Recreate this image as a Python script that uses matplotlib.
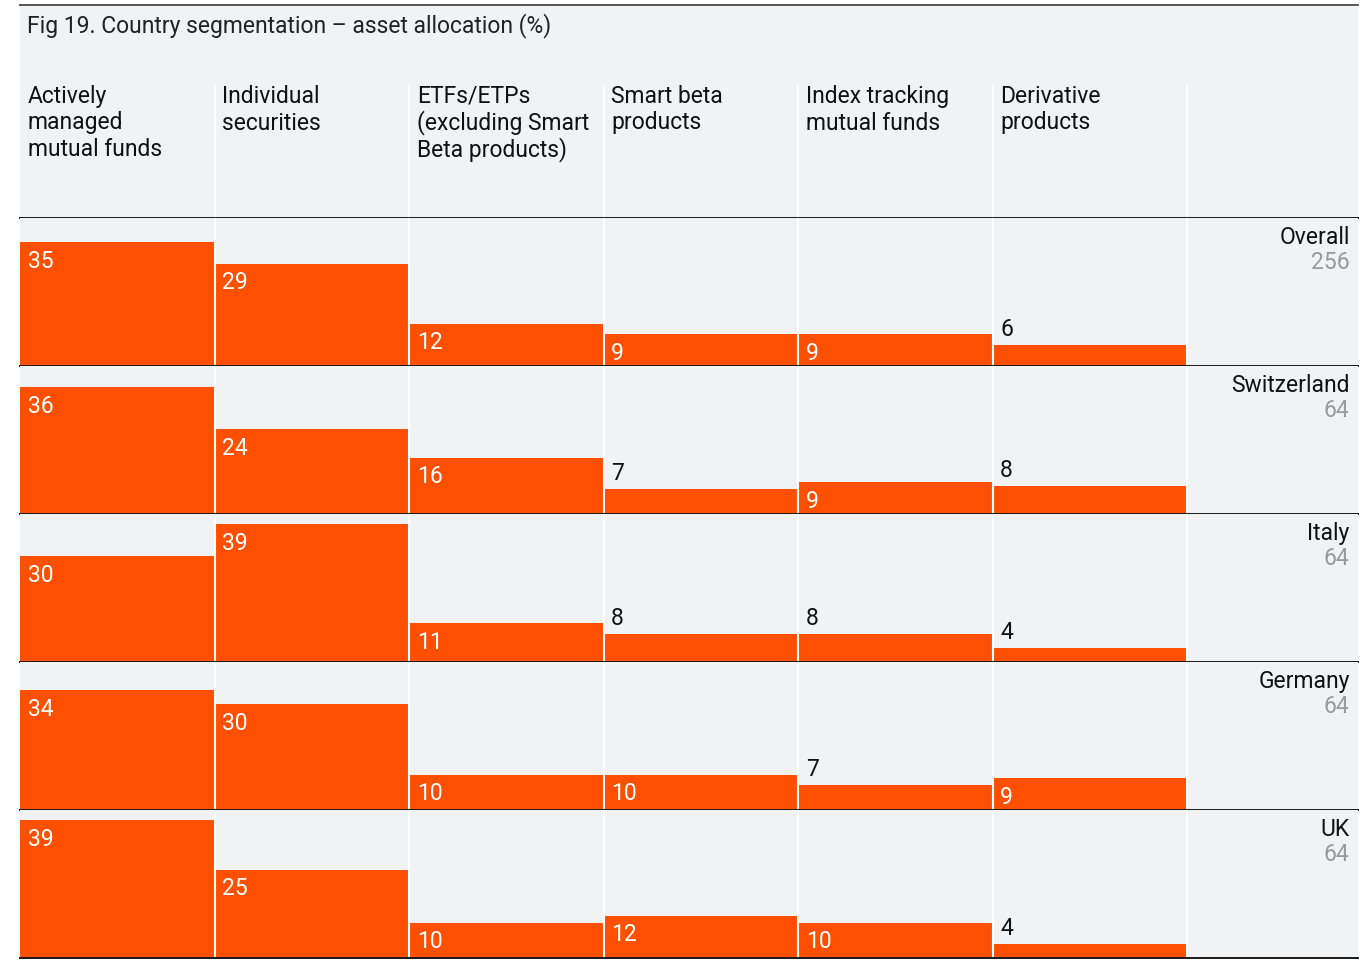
import matplotlib
matplotlib.use("Agg")
import matplotlib.pyplot as plt

plt.rcParams['font.family'] = ['Roboto', 'DejaVu Sans']

title = "Fig 19. Country segmentation \u2013 asset allocation (%)"
categories = ["Actively\nmanaged\nmutual funds", "Individual\nsecurities",
              "ETFs/ETPs\n(excluding Smart\nBeta products)", "Smart beta\nproducts",
              "Index tracking\nmutual funds", "Derivative\nproducts"]
countries = ["Overall", "Switzerland", "Italy", "Germany", "UK"]
counts = [256, 64, 64, 64, 64]
overall = [35, 29, 12, 9, 9, 6]
switzerland = [36, 24, 16, 7, 9, 8]
italy = [30, 39, 11, 8, 8, 4]
germany = [34, 30, 10, 10, 7, 9]
uk = [39, 25, 10, 12, 10, 4]
series = [overall, switzerland, italy, germany, uk]

W, H = 1362, 960
BG = '#f1f2f4'
ORANGE = '#ff4f00'
FS = 16.5

fig = plt.figure(figsize=(W / 100, H / 100), dpi=100)
fig.patch.set_facecolor('white')

left_px, right_px = 20, 1358
col_w = (1187 - 20) / 6
xmax = (right_px - left_px) / col_w
ncol = len(categories)

def ax_rect(top, bottom):
    return [left_px / W, (H - bottom) / H, (right_px - left_px) / W, (bottom - top) / H]

# header axes
hax = fig.add_axes(ax_rect(5, 218))
hax.set_facecolor(BG)
hax.set_xlim(0, xmax)
hax.set_ylim(213, 0)
for s in ['left', 'right']:
    hax.spines[s].set_visible(False)
hax.spines['top'].set_color('#555555')
hax.spines['top'].set_linewidth(1.4)
hax.spines['bottom'].set_color('#1a1a1a')
hax.spines['bottom'].set_linewidth(1.4)
hax.set_xticks([]); hax.set_yticks([])
hax.text(0.035, 21, title, fontsize=FS, color='#222222', va='center', ha='left')
for i, c in enumerate(categories):
    for j, line in enumerate(c.split('\n')):
        hax.text(i + 0.04, 98 + j * 26.5, line, fontsize=FS, color='#111111',
                 va='baseline', ha='left')
for i in range(1, ncol + 1):
    hax.plot([i, i], [80, 213], color='white', lw=1.5, solid_capstyle='butt')

YMAX = 148 / 3.53
row_h = 148
for r, (name, n, vals) in enumerate(zip(countries, counts, series)):
    top = 218 + r * row_h
    ax = fig.add_axes(ax_rect(top, top + row_h))
    ax.set_facecolor(BG)
    ax.set_xlim(0, xmax)
    ax.set_ylim(0, YMAX)
    for s in ['left', 'right', 'top']:
        ax.spines[s].set_visible(False)
    ax.spines['bottom'].set_color('#1a1a1a')
    ax.spines['bottom'].set_linewidth(1.4)
    ax.spines['bottom'].set_zorder(5)
    ax.set_xticks([]); ax.set_yticks([])
    xs = list(range(ncol))
    ax.bar(xs, vals, width=1.0, align='edge', color=ORANGE, edgecolor='none', zorder=2)
    for i in range(1, ncol + 1):
        ax.axvline(i, color='white', lw=1.5, zorder=3)
    for x, v in zip(xs, vals):
        if v >= 9:
            ax.annotate(str(v), (x, v), xytext=(5.5, -5.5), textcoords='offset points',
                        ha='left', va='top', fontsize=FS, color='white', zorder=4)
        else:
            ax.annotate(str(v), (x, v), xytext=(5.5, 3), textcoords='offset points',
                        ha='left', va='bottom', fontsize=FS, color='#111111', zorder=4)
    ax.annotate(name, (xmax, YMAX), xytext=(-6, -5.5), textcoords='offset points',
                ha='right', va='top', fontsize=FS, color='#111111')
    ax.annotate(str(n), (xmax, YMAX), xytext=(-6, -24), textcoords='offset points',
                ha='right', va='top', fontsize=FS, color='#999999')

fig.savefig('out.png', dpi=100, facecolor='white')
